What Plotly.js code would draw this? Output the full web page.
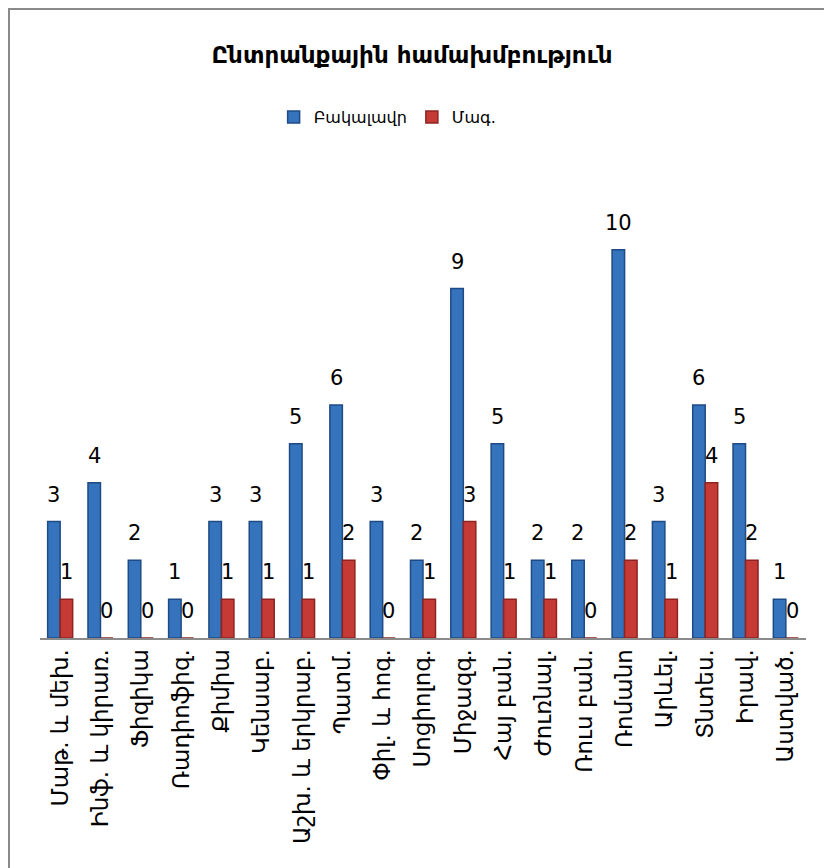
<!DOCTYPE html>
<html>
<head>
<meta charset="utf-8">
<script src="https://cdn.plot.ly/plotly-3.0.1.min.js"></script>
<style>
  html, body { margin: 0; padding: 0; background: #fff; }
  #wrap { position: relative; width: 824px; height: 868px; overflow: hidden; }
  #frame { position: absolute; left: 8px; top: 8px; width: 900px; height: 900px;
           border-left: 2px solid #8a8a8a; border-top: 2px solid #8a8a8a; pointer-events: none; }
  #chart { position: absolute; left: 0; top: 0; width: 824px; height: 868px; }
</style>
</head>
<body>
<div id="wrap">
  <div id="chart"></div>
  <div id="frame"></div>
</div>
<script>
// Faculties (abbreviated)
const categories = [
  "Մաթ. և մեխ.", "Ինֆ. և կիրառ.", "Ֆիզիկա", "Ռադիոֆիզ.", "Քիմիա",
  "Կենսաբ.", "Աշխ. և երկրաբ.", "Պատմ.", "Փիլ. և հոգ.", "Սոցիոլոգ.",
  "Միջազգ.", "Հայ բան.", "Ժուռնալ.", "Ռուս բան.", "Ռոմանո",
  "Արևել.", "Տնտես.", "Իրավ.", "Աստված."
];

// Bachelor students per faculty
const bachelor = [3, 4, 2, 1, 3, 3, 5, 6, 3, 2, 9, 5, 2, 2, 10, 3, 6, 5, 1];

// Master students per faculty
const master = [1, 0, 0, 0, 1, 1, 1, 2, 0, 1, 3, 1, 1, 0, 2, 1, 4, 2, 0];

const FONT = "DejaVu Sans, Noto Sans, sans-serif";

function barTrace(name, values, fill, edge) {
  return {
    type: "bar",
    name: name,
    x: categories,
    y: values,
    marker: { color: fill, line: { color: edge, width: 1.5 } }
  };
}

const traces = [
  barTrace("Բակալավր", bachelor, "#3573BD", "#1E4B85"),
  barTrace("Մագ.", master, "#C63A35", "#8E2421")
];

// Value labels sit a little above each bar; the two series in a group are
// nudged left / right so each label is centred over its own bar.
function valueLabels(values, xshift) {
  return values.map((v, i) => ({
    x: categories[i],
    y: v,
    text: String(v),
    showarrow: false,
    xanchor: "center",
    yanchor: "bottom",
    xshift: xshift,
    yshift: 13,
    font: { family: FONT, size: 21, color: "#000" }
  }));
}

const layout = {
  width: 824,
  height: 868,
  paper_bgcolor: "rgba(0,0,0,0)",
  plot_bgcolor: "rgba(0,0,0,0)",
  margin: { l: 40, r: 18, t: 172, b: 230 },
  barmode: "group",
  bargap: 0.38,
  bargroupgap: 0,
  showlegend: true,
  title: {
    text: "<b>Ընտրանքային համախմբություն</b>",
    font: { family: "DejaVu Sans, sans-serif", size: 23, color: "#000" },
    x: 0.5,
    xanchor: "center",
    y: 1 - 55 / 868,
    yanchor: "middle"
  },
  legend: {
    orientation: "h",
    x: 0.305,
    xanchor: "left",
    y: 1.118,
    yanchor: "middle",
    font: { family: FONT, size: 16, color: "#000" },
    itemwidth: 30,
    traceorder: "normal"
  },
  xaxis: {
    type: "category",
    tickangle: -90,
    tickfont: { family: FONT, size: 23, color: "#000" },
    showline: true,
    linecolor: "#8a8a8a",
    linewidth: 2,
    ticks: "",
    showgrid: false,
    zeroline: false
  },
  yaxis: {
    range: [0, 12],
    visible: false,
    showgrid: false,
    zeroline: false
  },
  annotations: valueLabels(bachelor, -6.3).concat(valueLabels(master, 6.3)),
  font: { family: FONT }
};

Plotly.newPlot("chart", traces, layout, { staticPlot: true, displayModeBar: false });
</script>
</body>
</html>
